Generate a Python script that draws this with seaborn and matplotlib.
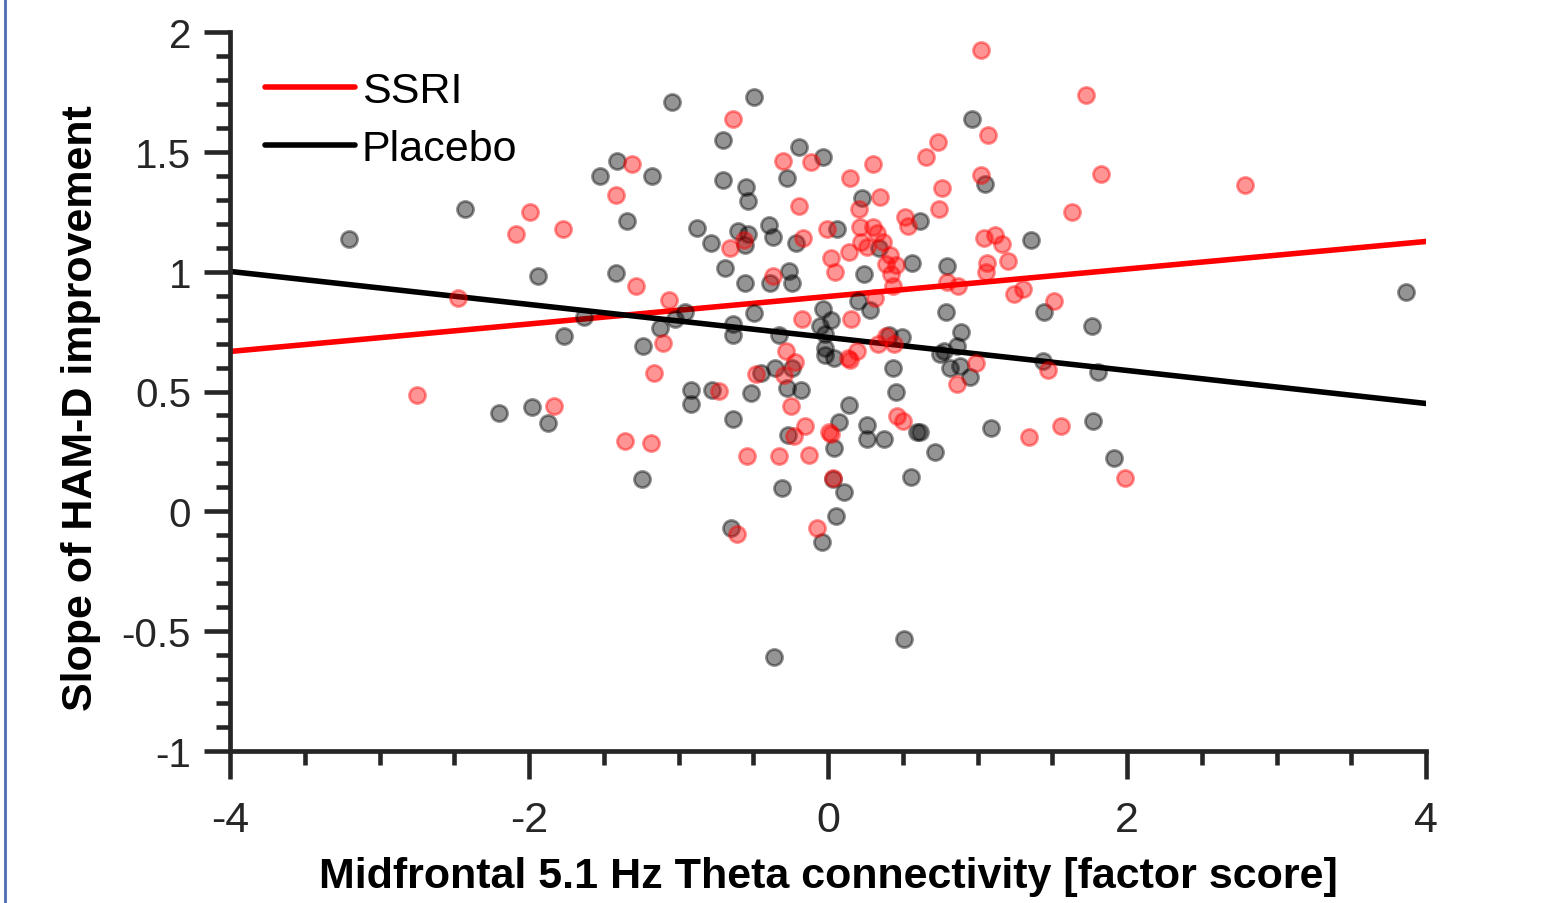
import numpy as np
import pandas as pd
import seaborn as sns
import matplotlib
matplotlib.use("Agg")
import matplotlib.pyplot as plt
from matplotlib.lines import Line2D
from matplotlib.ticker import MultipleLocator

# ---------------- data ----------------
placebo_x = [-3.204, -2.428, -1.940, -2.201, -1.980, -1.873, -1.766, -1.632, -1.525, -1.411,
             -1.418, -1.344, -1.244, -1.237, -1.177, -1.124, -1.043, -1.023, -0.957, -0.916,
             -0.916, -0.876, -0.776, -0.783, -0.702, -0.702, -0.689, -0.649, -0.635, -0.635,
             -0.635, -0.602, -0.555, -0.535, -0.555, -0.549, -0.535, -0.515, -0.495, -0.495,
             -0.448, -0.395, -0.368, -0.388, -0.355, -0.328, -0.308, -0.274, -0.268, -0.261,
             -0.241, -0.241, -0.274, -0.214, -0.194, -0.181, -0.054, -0.033, -0.033, -0.040,
             -0.020, -0.020, -0.020, 0.020, 0.040, 0.060, 0.033, 0.040, 0.054, 0.074,
             0.107, 0.140, 0.201, 0.227, 0.241, 0.261, 0.261, 0.281, 0.341, 0.375,
             0.408, 0.435, 0.455, 0.495, 0.508, 0.555, 0.562, 0.595, 0.615, 0.615,
             0.716, 0.749, 0.776, 0.789, 0.796, 0.816, 0.863, 0.883, 0.890, 0.950,
             0.963, 1.050, 1.090, 1.358, 1.438, 1.445, 1.766, 1.773, 1.806, 1.913,
             3.866, -0.361]
placebo_y = [1.135, 1.260, 0.980, 0.409, 0.434, 0.367, 0.730, 0.809, 1.398, 1.460,
             0.993, 1.210, 0.134, 0.688, 1.398, 0.763, 1.706, 0.801, 0.830, 0.505,
             0.446, 1.181, 0.505, 1.118, 1.548, 1.381, 1.014, -0.071, 0.384, 0.734,
             0.780, 1.168, 1.110, 1.156, 0.951, 1.352, 1.293, 0.492, 1.727, 0.826,
             0.576, 1.193, 1.143, 0.951, 0.597, 0.734, 0.096, 1.389, 0.317, 1.001,
             0.951, 0.597, 0.513, 1.118, 1.519, 0.505, 0.772, 1.477, 0.843, -0.129,
             0.738, 0.680, 0.651, 0.797, 0.638, 1.177, 0.134, 0.263, -0.021, 0.371,
             0.079, 0.442, 0.876, 1.306, 0.989, 0.359, 0.300, 0.839, 1.097, 0.300,
             0.734, 0.597, 0.496, 0.726, -0.534, 0.142, 1.035, 0.330, 0.330, 1.210,
             0.246, 0.655, 0.668, 0.830, 1.022, 0.597, 0.688, 0.605, 0.747, 0.559,
             1.635, 1.364, 0.346, 1.131, 0.626, 0.830, 0.772, 0.375, 0.580, 0.221,
             0.914, -0.609]

ssri_x = [-2.749, -2.475, -2.087, -1.993, -1.833, -1.773, -1.418, -1.358, -1.311, -1.284,
          -1.184, -1.164, -1.104, -1.064, -0.729, -0.656, -0.635, -0.609, -0.562, -0.542,
          -0.482, -0.368, -0.328, -0.301, -0.294, -0.281, -0.247, -0.227, -0.221, -0.194,
          -0.174, -0.167, -0.154, -0.127, -0.114, -0.074, -0.007, 0.007, 0.020, 0.020,
          0.047, 0.033, 0.134, 0.147, 0.140, 0.147, 0.154, 0.194, 0.207, 0.214,
          0.221, 0.261, 0.301, 0.301, 0.314, 0.328, 0.334, 0.348, 0.368, 0.388,
          0.388, 0.415, 0.421, 0.435, 0.441, 0.455, 0.462, 0.502, 0.515, 0.535,
          0.656, 0.736, 0.742, 0.763, 0.796, 0.870, 0.863, 0.990, 1.023, 1.023,
          1.043, 1.057, 1.064, 1.070, 1.117, 1.164, 1.204, 1.244, 1.304, 1.344,
          1.472, 1.512, 1.559, 1.632, 1.726, 1.826, 1.987, 2.789]
ssri_y = [0.484, 0.889, 1.156, 1.247, 0.438, 1.177, 1.318, 0.292, 1.448, 0.939,
          0.284, 0.576, 0.701, 0.880, 0.501, 1.097, 1.635, -0.096, 1.131, 0.229,
          0.572, 0.980, 0.229, 1.460, 0.567, 0.668, 0.438, 0.313, 0.622, 1.272,
          0.801, 1.139, 0.355, 0.234, 1.456, -0.071, 1.177, 0.330, 0.321, 1.056,
          0.997, 0.138, 0.638, 0.630, 1.081, 1.389, 0.801, 0.668, 1.260, 1.185,
          1.122, 1.101, 1.448, 1.185, 0.889, 1.160, 0.697, 1.310, 1.122, 1.030,
          0.730, 1.068, 0.989, 0.939, 0.697, 1.026, 0.396, 0.375, 1.227, 1.189,
          1.477, 1.540, 1.260, 1.348, 0.955, 0.939, 0.530, 0.617, 1.923, 1.402,
          1.139, 0.997, 1.035, 1.569, 1.151, 1.114, 1.043, 0.905, 0.926, 0.309,
          0.588, 0.876, 0.355, 1.247, 1.736, 1.406, 0.138, 1.360]

# fitted regression lines (endpoints at the axis limits)
line_x = [-4, 4]
ssri_fit = [0.667, 1.126]
placebo_fit = [1.001, 0.450]

x_ticks = [-4, -2, 0, 2, 4]
y_ticks = [-1, -0.5, 0, 0.5, 1, 1.5, 2]
y_tick_labels = ["-1", "-0.5", "0", "0.5", "1", "1.5", "2"]

# ---------------- styling ----------------
sns.set_theme(style="white")
plt.rcParams["font.family"] = ["Liberation Sans", "DejaVu Sans"]
narrow = ["Liberation Sans Narrow", "Liberation Sans", "DejaVu Sans"]
axc = "#262626"

fig = plt.figure(figsize=(15.44, 9.04), dpi=100)
ax = fig.add_axes([230 / 1544, 1 - 752 / 904, 1196 / 1544, 719 / 904])

sns.lineplot(x=line_x, y=ssri_fit, color="#ff0000", lw=4, label="SSRI", ax=ax, zorder=2)
sns.lineplot(x=line_x, y=placebo_fit, color="black", lw=4, label="Placebo", ax=ax, zorder=2)

sns.scatterplot(x=placebo_x, y=placebo_y, color="black", alpha=0.42, s=135,
                edgecolor="face", linewidth=2, ax=ax, legend=False, zorder=3)
sns.scatterplot(x=ssri_x, y=ssri_y, color="#ff0000", alpha=0.42, s=135,
                edgecolor="face", linewidth=2, ax=ax, legend=False, zorder=3)

ax.set_xlim(-4, 4)
ax.set_ylim(-1, 2)
ax.set_xticks(x_ticks)
ax.set_xticklabels([str(t) for t in x_ticks], fontfamily=narrow)
ax.set_yticks(y_ticks)
ax.set_yticklabels(y_tick_labels)
ax.xaxis.set_minor_locator(MultipleLocator(0.5))
ax.yaxis.set_minor_locator(MultipleLocator(0.1))

ax.tick_params(axis="both", which="major", direction="out", color=axc, width=3.3,
               labelcolor=axc, labelsize=29)
ax.tick_params(axis="y", which="major", length=19, pad=9)
ax.tick_params(axis="x", which="major", length=20, pad=15, labelsize=31)
ax.tick_params(axis="both", which="minor", direction="out", color=axc, width=3.3, length=10)
ax.tick_params(left=True, bottom=True, which="both")

for s in ["top", "right"]:
    ax.spines[s].set_visible(False)
for s in ["left", "bottom"]:
    ax.spines[s].set_linewidth(3.4)
    ax.spines[s].set_color(axc)
ax.grid(False)

ax.set_xlabel("Midfrontal 5.1 Hz Theta connectivity [factor score]", fontsize=31,
              fontweight="bold", fontfamily=narrow, color="black", labelpad=12)
ax.set_ylabel("Slope of HAM-D improvement", fontsize=31, fontweight="bold",
              fontfamily=narrow, color="black")
ax.yaxis.set_label_coords(-(230 - 101) / 1196, (752 - 408) / 719)

leg = ax.legend(loc="upper left", bbox_to_anchor=(35 / 1196, 1 - 39 / 719),
                frameon=False, fontsize=31, handlelength=2.1, handletextpad=0.15,
                labelspacing=0.42, borderpad=0, borderaxespad=0)
for t in leg.get_texts():
    t.set_color("black")

fig.add_artist(Line2D([4.5 / 1544, 4.5 / 1544], [0, 1], transform=fig.transFigure,
                      color="#4a6eb0", lw=2))

fig.savefig("out.png", dpi=100)
